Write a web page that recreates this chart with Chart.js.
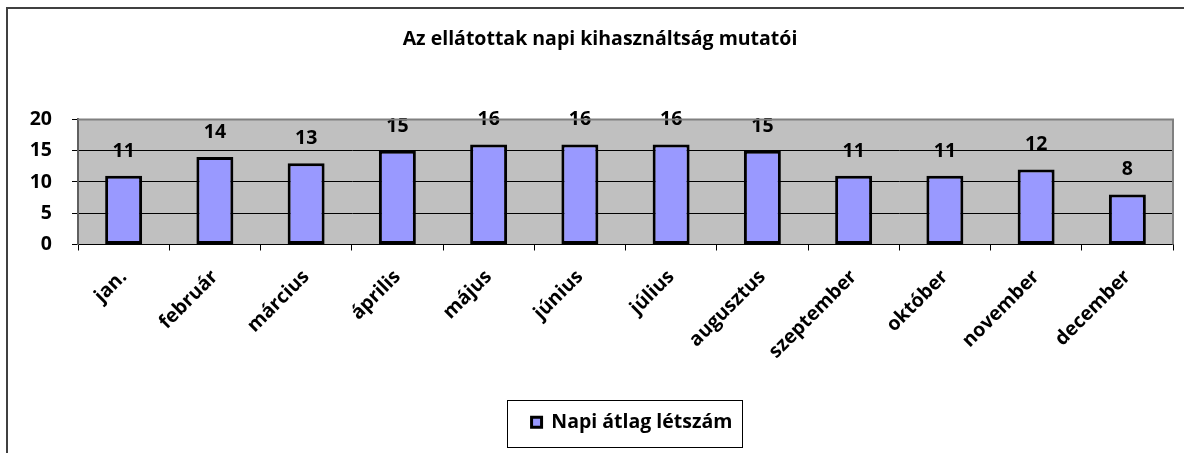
<!DOCTYPE html>
<html>
<head>
<meta charset="utf-8">
<script src="https://cdn.jsdelivr.net/npm/chart.js@4/dist/chart.umd.min.js"></script>
<style>
  html, body { margin: 0; padding: 0; background: #fff; overflow: hidden; }
  #frame { position: absolute; left: 6px; top: 7px; width: 2000px; height: 1000px;
           border-left: 2px solid #404040; border-top: 2px solid #404040; }
  #myChart { position: absolute; left: 0; top: 0; }
</style>
</head>
<body>
<div id="frame"></div>
<canvas id="myChart" width="1184" height="453"></canvas>
<script>
const honapok = ["jan.", "február", "március", "április", "május", "június",
  "július", "augusztus", "szeptember", "október", "november", "december"]
const letszam = [11, 14, 13, 15, 16, 16, 16, 15, 11, 11, 12, 8]
const yTicks = [0, 5, 10, 15, 20]
const cim = "Az ellátottak napi kihasználtság mutatói"
const sorozatNev = "Napi átlag létszám"

const betu = "'Open Sans', Lato, sans-serif"
const meret = 19.5
const canvas = document.querySelector("#myChart")

// szürke rajzterület + jobb/felső keret
const hatter = {
    id: "hatter",
    beforeDraw(chart) {
        const { ctx, chartArea: a } = chart
        ctx.save()
        ctx.fillStyle = "#c0c0c0"
        ctx.fillRect(a.left, a.top, a.right - a.left, a.bottom - a.top)
        ctx.restore()
    },
    afterDraw(chart) {
        const { ctx, chartArea: a } = chart
        ctx.save()
        ctx.strokeStyle = "#808080"
        ctx.lineWidth = 2
        ctx.beginPath()
        ctx.moveTo(a.left, a.top)
        ctx.lineTo(a.right, a.top)
        ctx.lineTo(a.right, a.bottom)
        ctx.stroke()
        ctx.restore()
    }
}

// értékek az oszlopok fölé
const ertekek = {
    id: "ertekek",
    afterDatasetsDraw(chart) {
        const { ctx } = chart
        const meta = chart.getDatasetMeta(0)
        ctx.save()
        ctx.font = "bold " + meret + "px " + betu
        ctx.fillStyle = "#000"
        ctx.textAlign = "center"
        ctx.textBaseline = "alphabetic"
        meta.data.forEach((bar, i) => {
            ctx.fillText(letszam[i], bar.x, bar.y - 19)
        })
        ctx.restore()
    }
}

// jelmagyarázat kicsit jobbra tolva, kerettel
const jelmagyarazat = {
    id: "jelmagyarazat",
    afterLayout(chart) {
        chart.legend.left += 32
        chart.legend.right += 32
    },
    afterDraw(chart) {
        const hb = chart.legend.legendHitBoxes[0]
        if (!hb) return
        const { ctx } = chart
        const cy = hb.top + hb.height / 2
        ctx.save()
        ctx.strokeStyle = "#000"
        ctx.lineWidth = 1
        ctx.strokeRect(Math.round(hb.left - 25) + 0.5, Math.round(cy - 22) + 0.5,
            Math.round(hb.width + 34), 47)
        ctx.restore()
    }
}

const datasets = [{
    label: sorozatNev,
    data: letszam,
    backgroundColor: "#9999ff",
    borderColor: "#000",
    borderWidth: 3,
    borderSkipped: false,
    barPercentage: 0.405,
    categoryPercentage: 1
}]

const config = {
    type: "bar",
    data: { labels: honapok, datasets },
    options: {
        responsive: false,
        animation: false,
        layout: { padding: { left: 27, right: 11, top: 0, bottom: 11 } },
        plugins: {
            title: {
                display: true,
                text: cim,
                color: "#000",
                font: { family: betu, size: meret, weight: "bold" },
                padding: { top: 28, bottom: 68 }
            },
            legend: {
                position: "bottom",
                labels: {
                    color: "#000",
                    font: { family: betu, size: meret, weight: "bold" },
                    boxWidth: 10,
                    boxHeight: 10,
                    padding: 10
                }
            },
            tooltip: { enabled: false }
        },
        scales: {
            x: {
                afterFit(scale) { scale.height = 158 },
                grid: {
                    offset: true,
                    drawOnChartArea: false,
                    drawTicks: true,
                    tickLength: 6,
                    color: "#000"
                },
                border: { color: "#000", width: 1 },
                ticks: {
                    color: "#000",
                    font: { family: betu, size: meret, weight: "bold" },
                    minRotation: 45,
                    maxRotation: 45,
                    padding: 15,
                    labelOffset: 0,
                    autoSkip: false
                }
            },
            y: {
                min: 0,
                max: 20,
                afterFit(scale) { scale.width = 51 },
                afterBuildTicks(scale) { scale.ticks = yTicks.map(v => ({ value: v })) },
                grid: { color: "#000", lineWidth: 1, tickLength: 6 },
                border: { color: "#606060", width: 2 },
                ticks: {
                    color: "#000",
                    font: { family: betu, size: meret, weight: "bold" },
                    padding: 20
                }
            }
        }
    },
    plugins: [hatter, ertekek, jelmagyarazat]
}

canvas.style.backgroundColor = "transparent"
new Chart(canvas, config)
</script>
</body>
</html>
